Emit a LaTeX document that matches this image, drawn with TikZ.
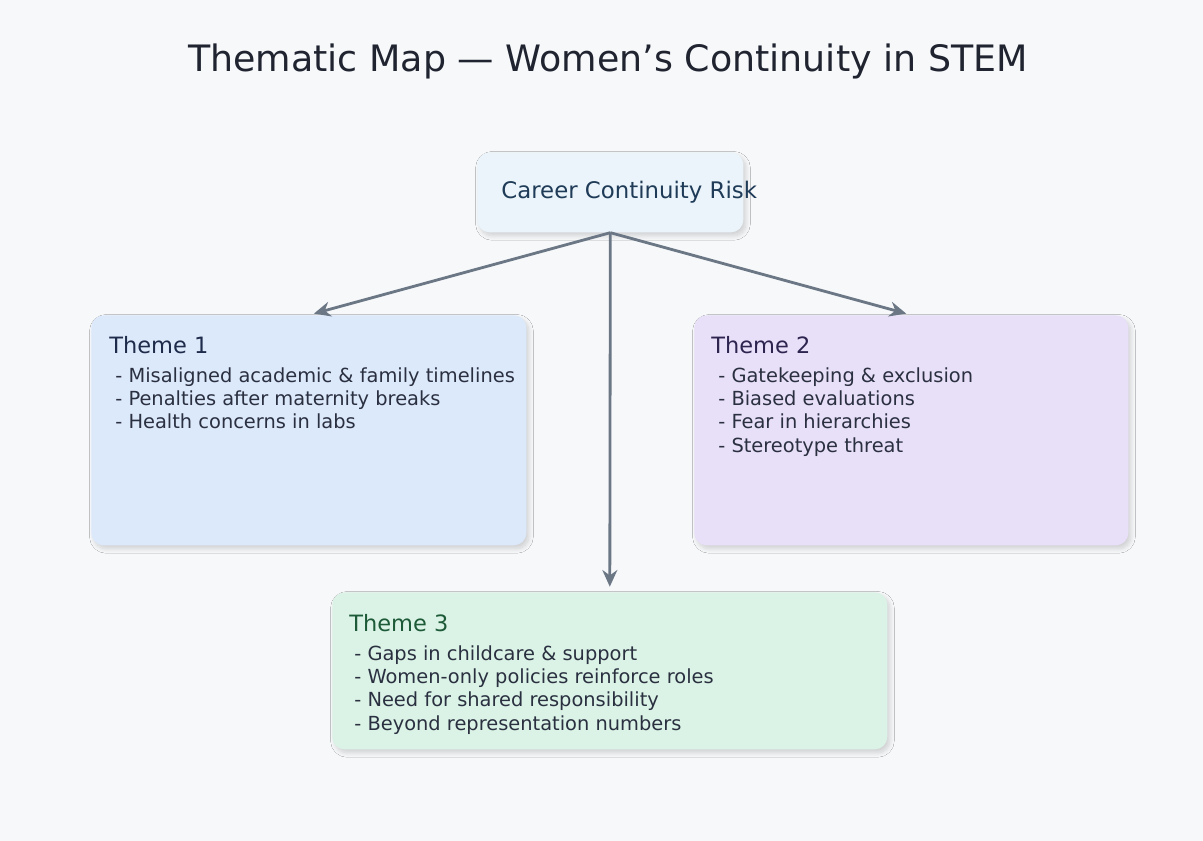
\documentclass[tikz,border=0pt]{standalone}
\usepackage{fontspec}
\setmainfont{DejaVu Sans}
\usetikzlibrary{positioning,arrows.meta,shadows.blur,calc}

\definecolor{bgcol}{HTML}{F7F8FA}
\definecolor{linkcol}{HTML}{6B7785}
\definecolor{titlecol}{HTML}{1F2430}
\definecolor{riskfill}{HTML}{EAF4FA}
\definecolor{riskfont}{HTML}{1F3B57}
\definecolor{onefill}{HTML}{DCE9FB}
\definecolor{onefont}{HTML}{1E2B4A}
\definecolor{twofill}{HTML}{E8DFF8}
\definecolor{twofont}{HTML}{2D2450}
\definecolor{threefill}{HTML}{DBF3E6}
\definecolor{threefont}{HTML}{1D5A38}
\definecolor{itemfont}{HTML}{2A3040}

\tikzset{
  card/.style={rounded corners=7pt, draw=none, inner sep=0pt, anchor=north west,
    blur shadow={shadow xshift=1.5pt, shadow yshift=-2pt, shadow blur radius=2.5pt,
      shadow blur steps=10, shadow opacity=16}},
  link/.style={draw=linkcol, line width=1.6pt, shorten >=3pt,
    -{Stealth[length=9.5pt,width=8.5pt]}},
  heading/.style={inner sep=0pt, font=\fontsize{12.8}{15}\selectfont},
  items/.style={inner sep=0pt, align=left, text=itemfont,
    font=\fontsize{11.05}{13.3}\selectfont},
}

\begin{document}
\begin{tikzpicture}[x=0.02cm, y=-0.02cm]
  \fill[bgcol] (0,0) rectangle (1203,841);
  \useasboundingbox (0,0) rectangle (1203,841);

  \node[text=titlecol, font=\fontsize{20.7}{24}\selectfont, anchor=base] (title) at (608,72)
    {Thematic Map — Women’s Continuity in STEM};

  % central risk
  \node[card, fill=riskfill, minimum width=5.32cm, minimum height=1.6cm] (risk) at (477,152) {};
  \node[anchor=base west, inner sep=0pt, text=riskfont, font=\fontsize{13}{15}\selectfont]
    (risklabel) at ($(risk.west)+(24,6)$) {Career Continuity Risk};

  % themes
  \node[card, fill=onefill, minimum width=8.7cm, minimum height=4.6cm] (theme1) at (91,315) {};
  \node[card, fill=twofill, minimum width=8.68cm, minimum height=4.6cm] (theme2) at (694,315) {};
  \node[card, fill=threefill, minimum width=11.1cm, minimum height=3.14cm] (theme3) at (332,592) {};

  \node[heading, text=onefont, below right=0.42cm and 0.36cm of theme1.north west] (head1) {Theme 1};
  \node[items, below right=1.04cm and 0.48cm of theme1.north west] (list1)
    {- Misaligned academic \& family timelines\\- Penalties after maternity breaks\\- Health concerns in labs};

  \node[heading, text=twofont, below right=0.42cm and 0.34cm of theme2.north west] (head2) {Theme 2};
  \node[items, below right=1.04cm and 0.48cm of theme2.north west] (list2)
    {- Gatekeeping \& exclusion\\- Biased evaluations\\- Fear in hierarchies\\- Stereotype threat};

  \node[heading, text=threefont, below right=0.44cm and 0.34cm of theme3.north west] (head3) {Theme 3};
  \node[items, below right=1.06cm and 0.44cm of theme3.north west] (list3)
    {- Gaps in childcare \& support\\- Women-only policies reinforce roles\\- Need for shared responsibility\\- Beyond representation numbers};

  \draw[link] (risk.south) -- (theme1.north);
  \draw[link] (risk.south) -- (theme2.north);
  \draw[link] (risk.south) -- (theme3.north);
\end{tikzpicture}
\end{document}
